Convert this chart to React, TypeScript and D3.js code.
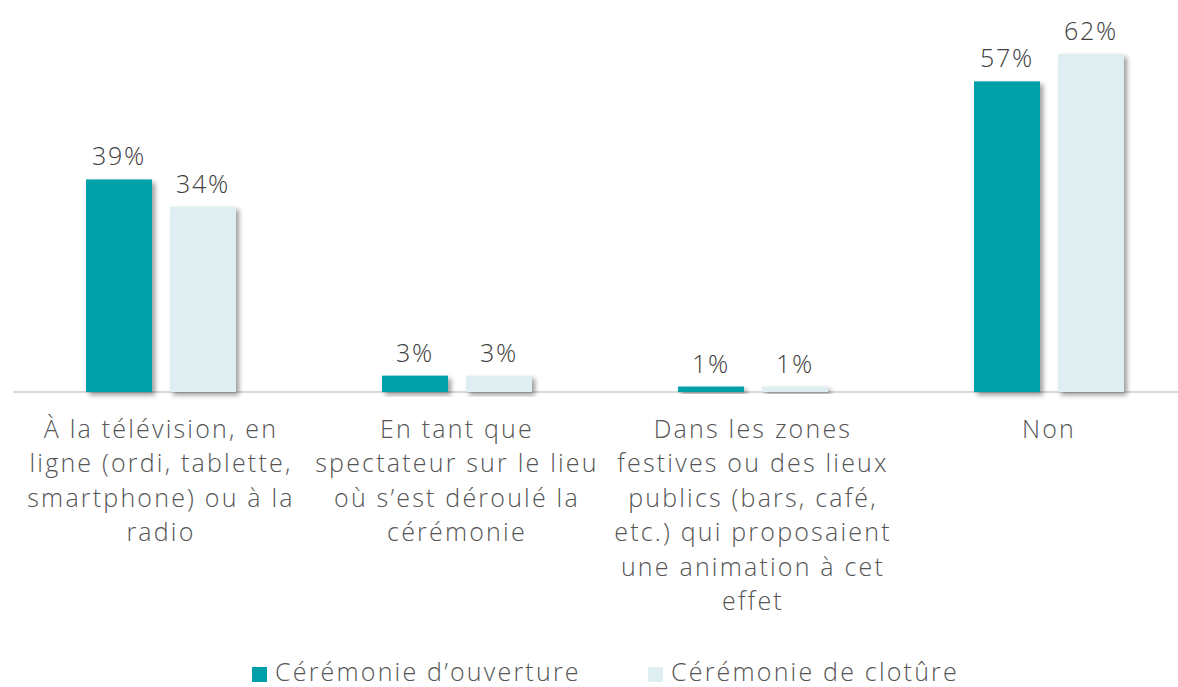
import React from 'react';
import * as d3 from 'd3';

// categories (x axis), one array of lines per label
const categories = ['tv', 'lieu', 'zones', 'non'];
const categoryLines = [
  ['À la télévision, en', 'ligne (ordi, tablette,', 'smartphone) ou à la', 'radio'],
  ['En tant que', 'spectateur sur le lieu', 'où s’est déroulé la', 'cérémonie'],
  ['Dans les zones', 'festives ou des lieux', 'publics (bars, café,', 'etc.) qui proposaient', 'une animation à cet', 'effet'],
  ['Non'],
];

const seriesNames = ['Cérémonie d’ouverture', 'Cérémonie de clotûre'];
const seriesColors = ['#00A0A8', '#DFEEF0'];
const ouverture = [39, 3, 1, 57];
const cloture = [34, 3, 1, 62];
const seriesValues = [ouverture, cloture];

const W = 1178;
const H = 687;
const baseY = 392;
const font = "'Open Sans', 'DejaVu Sans', sans-serif";

export default function App() {
  const x0 = d3.scaleBand<string>()
    .domain(categories)
    .range([13, 1197])
    .paddingInner(146 / 296)
    .paddingOuter(73 / 296);
  const x1 = d3.scaleBand<number>()
    .domain([0, 1])
    .range([0, x0.bandwidth()])
    .paddingInner(0.214);
  const y = d3.scaleLinear().domain([0, 70]).range([baseY, baseY - 70 * 5.45]);

  return (
    <svg width={W} height={H} style={{ position: 'absolute', left: 0, top: 0, background: '#fff' }}>
      <defs>
        <filter id="shadow" x="-20%" y="-20%" width="150%" height="150%">
          <feDropShadow dx="3" dy="3" stdDeviation="2.5" floodColor="#000" floodOpacity="0.4" />
        </filter>
      </defs>

      <line x1={13} x2={W} y1={baseY} y2={baseY} stroke="#d9d9d9" strokeWidth={2} />

      {categories.map((c, i) => (
        <g key={c} transform={`translate(${x0(c)},0)`}>
          {seriesValues.map((vals, s) => (
            <g key={s}>
              <rect
                x={x1(s)}
                y={y(vals[i])}
                width={x1.bandwidth()}
                height={baseY - y(vals[i])}
                fill={seriesColors[s]}
                filter="url(#shadow)"
              />
              <text
                x={(x1(s) as number) + x1.bandwidth() / 2}
                y={y(vals[i]) - 14}
                textAnchor="middle"
                fontFamily={font}
                fontSize={25}
                fontWeight={300}
                letterSpacing={1.8}
                fill="#404040"
              >
                {vals[i] + '%'}
              </text>
            </g>
          ))}
        </g>
      ))}

      {categories.map((c, i) => (
        <text
          key={c}
          x={(x0(c) as number) + x0.bandwidth() / 2}
          textAnchor="middle"
          fontFamily={font}
          fontSize={25}
          fontWeight={300}
          letterSpacing={2.2}
          fill="#555"
        >
          {categoryLines[i].map((line, k) => (
            <tspan key={k} x={(x0(c) as number) + x0.bandwidth() / 2} y={438 + k * 34.4}>
              {line}
            </tspan>
          ))}
        </text>
      ))}

      {seriesNames.map((name, s) => {
        const lx = [252, 648][s];
        return (
          <g key={name}>
            <rect x={lx} y={667} width={15} height={15} fill={seriesColors[s]} />
            <text x={lx + 23} y={681} fontFamily={font} fontSize={25} fontWeight={300} letterSpacing={2.2} fill="#555">
              {name}
            </text>
          </g>
        );
      })}
    </svg>
  );
}
